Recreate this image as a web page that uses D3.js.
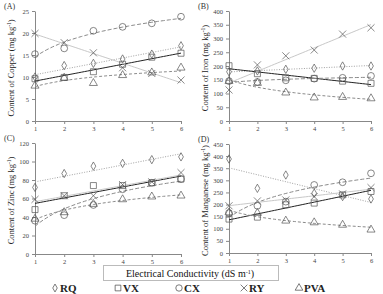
<!DOCTYPE html>
<html>
<head>
<meta charset="utf-8">
<script src="https://cdn.jsdelivr.net/npm/d3@7"></script>
<style>
  body { margin: 0; background: #fff; }
  svg text { font-family: "Liberation Serif", "DejaVu Serif", serif; }
</style>
</head>
<body>
<div id="chart"></div>
<script>
const W = 383, H = 294;
const FONT = "'Liberation Serif', 'DejaVu Serif', serif";

const ec = [1, 2, 3, 4, 5, 6];
const seriesNames = ["RQ", "VX", "CX", "RY", "PVA"];

// values, one array per soil and panel
const copperRQ = [10.0, 12.6, 13.1, 14.1, 15.2, 17.1];
const copperVX = [9.6, 9.9, 11.2, 12.9, 14.5, 15.4];
const copperCX = [15.2, 16.5, 20.5, 21.4, 22.2, 23.7];
const copperRY = [19.9, 17.8, 15.5, 12.1, 10.8, 9.3];
const copperPVA = [8.0, 9.8, 8.6, 10.4, 11.0, 12.1];

const ironRQ = [179, 182, 188, 192, 200, 200];
const ironVX = [201, 172, 157, 155, 145, 137];
const ironCX = [145, 142, 148, 154, 157, 164];
const ironRY = [113, 204, 237, 258, 316, 339];
const ironPVA = [145, 138, 103, 85, 87, 82];

const zincRQ = [72, 87, 95, 98, 102, 105];
const zincVX = [48, 63, 74, 74, 77, 81];
const zincCX = [36, 42, 53, 70, 77, 81];
const zincRY = [59, 63, 63, 75, 78, 88];
const zincPVA = [38, 45, 54, 59, 62, 63];

const manganeseRQ = [388, 267, 322, 247, 233, 223];
const manganeseVX = [140, 148, 199, 206, 240, 254];
const manganeseCX = [165, 195, 212, 281, 292, 329];
const manganeseRY = [195, 215, 219, 233, 244, 270];
const manganesePVA = [167, 165, 133, 126, 116, 96];

const copperTicks = [0, 5, 10, 15, 20, 25];
const ironTicks = [0, 50, 100, 150, 200, 250, 300, 350, 400];
const zincTicks = [0, 20, 40, 60, 80, 100, 120];
const manganeseTicks = [0, 50, 100, 150, 200, 250, 300, 350, 400, 450];

const panels = [
  { tag: "(A)", title: "Content of Copper (mg kg", ticks: copperTicks,
    data: [copperRQ, copperVX, copperCX, copperRY, copperPVA],
    x0: 35, x1: 181, y0: 121, y1: 11 },
  { tag: "(B)", title: "Content of Iron (mg kg", ticks: ironTicks,
    data: [ironRQ, ironVX, ironCX, ironRY, ironPVA],
    x0: 229, x1: 371, y0: 121, y1: 11 },
  { tag: "(C)", title: "Content of Zinc (mg kg", ticks: zincTicks,
    data: [zincRQ, zincVX, zincCX, zincRY, zincPVA],
    x0: 35, x1: 181, y0: 254, y1: 143 },
  { tag: "(D)", title: "Content of Manganese (mg kg", ticks: manganeseTicks,
    data: [manganeseRQ, manganeseVX, manganeseCX, manganeseRY, manganesePVA],
    x0: 229, x1: 371, y0: 253, y1: 144 }
];

const styles = {
  RQ:  { symbol: d3.symbolDiamond, size: 20, line: "#a0a0a0", dash: "1 1.5", fit: "lin" },
  VX:  { symbol: d3.symbolSquare, size: 36, line: "#222", dash: null, fit: "lin" },
  CX:  { symbol: d3.symbolCircle, size: 36, line: "#8a8a8a", dash: "4 2", fit: "log" },
  RY:  { symbol: d3.symbolTimes, size: 34, line: "#c8c8c8", dash: null, fit: "lin" },
  PVA: { symbol: d3.symbolTriangle, size: 28, line: "#8a8a8a", dash: "3 2", fit: "log" }
};

// least squares trend, linear or logarithmic in x
function trend(xs, ys, kind) {
  const tx = xs.map(v => kind === "log" ? Math.log(v) : v);
  const mx = d3.mean(tx), my = d3.mean(ys);
  let sxy = 0, sxx = 0;
  tx.forEach((v, i) => { sxy += (v - mx) * (ys[i] - my); sxx += (v - mx) * (v - mx); });
  const b = sxy / sxx, a = my - b * mx;
  return x => a + b * (kind === "log" ? Math.log(x) : x);
}

const svg = d3.select("#chart").append("svg")
  .attr("width", W)
  .attr("height", H)
  .attr("font-family", FONT);

panels.forEach(p => {
  const x = d3.scaleLinear().domain([1, 6]).range([p.x0, p.x1]);
  const y = d3.scaleLinear().domain([0, d3.max(p.ticks)]).range([p.y0, p.y1]);
  const g = svg.append("g");

  g.append("g")
    .attr("transform", `translate(0,${p.y0})`)
    .call(d3.axisBottom(x).tickValues(ec).tickSize(3).tickSizeOuter(0).tickFormat(d3.format("d")))
    .attr("font-family", FONT)
    .call(a => a.select(".domain").attr("stroke", "#888"))
    .call(a => a.selectAll("line").attr("stroke", "#888"))
    .call(a => a.selectAll("text").attr("font-size", 6.5).attr("fill", "#444").attr("dy", "0.55em"));

  g.append("g")
    .attr("transform", `translate(${p.x0},0)`)
    .call(d3.axisLeft(y).tickValues(p.ticks).tickSize(3).tickSizeOuter(0))
    .attr("font-family", FONT)
    .call(a => a.select(".domain").attr("stroke", "#888"))
    .call(a => a.selectAll("line").attr("stroke", "#888"))
    .call(a => a.selectAll("text").attr("font-size", 6.5).attr("fill", "#444").attr("x", -6));

  g.append("text")
    .attr("x", p.x0 - 31)
    .attr("y", p.y1 - 2)
    .attr("font-size", 8)
    .attr("fill", "#333")
    .text(p.tag);

  const title = g.append("text")
    .attr("transform", `translate(${p.x0 - 21},${(p.y0 + p.y1) / 2 + 2}) rotate(-90)`)
    .attr("text-anchor", "middle")
    .attr("font-size", 8.5)
    .attr("fill", "#222");
  title.append("tspan").text(p.title);
  title.append("tspan").attr("font-size", 5.5).attr("dy", -3).text("-1");
  title.append("tspan").attr("dy", 3).text(")");

  p.data.forEach((vals, i) => {
    const st = styles[seriesNames[i]];
    const f = trend(ec, vals, st.fit);
    const pts = d3.range(1, 6.01, 0.1).map(v => [v, f(v)]);
    g.append("path")
      .datum(pts)
      .attr("fill", "none")
      .attr("stroke", st.line)
      .attr("stroke-width", 1)
      .attr("stroke-dasharray", st.dash)
      .attr("d", d3.line().x(d => x(d[0])).y(d => y(d[1])));
  });

  p.data.forEach((vals, i) => {
    const st = styles[seriesNames[i]];
    g.append("g")
      .selectAll("path")
      .data(vals)
      .join("path")
      .attr("transform", (d, j) => `translate(${x(ec[j])},${y(d)})`)
      .attr("d", d3.symbol(st.symbol, st.size))
      .attr("fill", "none")
      .attr("stroke", "#555")
      .attr("stroke-width", 0.7);
  });
});

// x axis title box
svg.append("rect")
  .attr("x", 103.5)
  .attr("y", 265.5)
  .attr("width", 175)
  .attr("height", 15)
  .attr("fill", "#fff")
  .attr("stroke", "#bbb");

const xt = svg.append("text")
  .attr("x", 190)
  .attr("y", 276.5)
  .attr("text-anchor", "middle")
  .attr("font-size", 10)
  .attr("fill", "#111");
xt.append("tspan").text("Electrical Conductivity (dS m");
xt.append("tspan").attr("font-size", 6).attr("dy", -3).text("-1");
xt.append("tspan").attr("dy", 3).text(")");

// legend
const legendX = [55, 118, 179, 244, 299];
const legend = svg.append("g")
  .selectAll("g")
  .data(seriesNames)
  .join("g")
  .attr("transform", (d, i) => `translate(${legendX[i]},288)`);

legend.append("path")
  .attr("d", d => d3.symbol(styles[d].symbol, styles[d].size * 0.9)())
  .attr("fill", "none")
  .attr("stroke", "#444")
  .attr("stroke-width", 0.7);

legend.append("text")
  .attr("x", 5)
  .attr("y", 4)
  .attr("font-size", 11)
  .attr("font-weight", "bold")
  .attr("fill", "#222")
  .text(d => d);
</script>
</body>
</html>
